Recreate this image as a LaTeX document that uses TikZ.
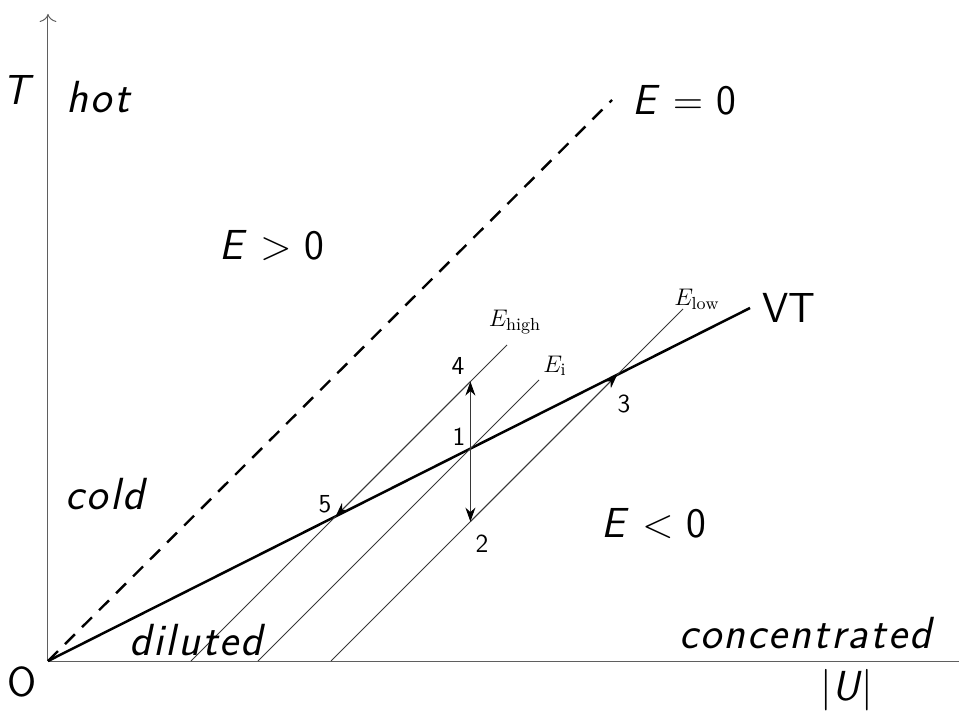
\documentclass[tikz,border=0pt]{standalone}
\usepackage{amsmath}
\usepackage{fontspec}
\usepackage{xcolor}
\usepackage{tikz}
\usetikzlibrary{arrows.meta, positioning, calc}
\setsansfont{Latin Modern Sans}
\definecolor{axisgray}{RGB}{95,95,95}
\definecolor{isogray}{RGB}{55,55,55}

\tikzset{
  biglab/.style={font=\sffamily\fontsize{21}{25}\selectfont, inner sep=0pt},
  wordlab/.style={font=\sffamily\itshape\fontsize{22.5}{26}\selectfont\addfontfeature{LetterSpace=5}, inner sep=0pt},
  numlab/.style={font=\sffamily\fontsize{13}{15}\selectfont, inner sep=0pt},
  elab/.style={font=\fontsize{12.5}{15}\selectfont, inner sep=0pt},
  isoline/.style={isogray, line width=0.5pt},
  flow/.style={isogray, line width=0.5pt, -{Stealth[length=7pt, width=5pt, black]}},
}

\begin{document}
\begin{tikzpicture}[x=0.5pt, y=0.5pt]
            \useasboundingbox (-48,-52) rectangle (911,661);
            % axes
            \coordinate (O) at (0,0);
            \coordinate (ytop) at (0,647);
            \coordinate (xend) at (911,0);
            \draw[axisgray, line width=0.5pt, -{To[length=4pt]}] (O) -- (ytop);
            \draw[axisgray, line width=0.5pt] (O) -- (xend);
            % E = 0 and VT
            \coordinate (zend) at (564,561);
            \coordinate (vtend) at (702,353);
            \draw[line width=1.2pt, dash pattern=on 7pt off 5pt] (O) -- (zend);
            \draw[line width=1.25pt] (O) -- (vtend);
            % lines of constant E
            \coordinate (hbot) at (143,0);  \coordinate (htop) at (459,316);
            \coordinate (ibot) at (210,0);  \coordinate (itop) at (491,281);
            \coordinate (lbot) at (283,0);  \coordinate (ltop) at (635,352);
            \draw[isoline] (hbot) -- (htop);
            \draw[isoline] (ibot) -- (itop);
            \draw[isoline] (lbot) -- (ltop);
            % states
            \coordinate (p1) at (422.4,212.4);
            \coordinate (p2) at (422.4,139.4);
            \coordinate (p3) at (569.2,286.2);
            \coordinate (p4) at (422.4,279.4);
            \coordinate (p5) at (287.6,144.6);
            \draw[flow] (p4) -- (p5);
            \draw[flow] (p2) -- (p3);
            \draw[flow] (p1) -- (p4);
            \draw[flow] (p1) -- (p2);
            % labels
            \node[biglab] (tlab) at (-30,571) {\textit{T}};
            \node[biglab] (olab) at (-26,-21) {O};
            \node[biglab] (ulab) at (799,-29) {$|$\textit{U}$|$};
            \node[wordlab] (hot) at (50,564) {hot};
            \node[wordlab] (cold) at (57,167) {cold};
            \node[wordlab] (dil) at (148,21) {diluted};
            \node[wordlab] (conc) at (757,28) {concentrated};
            \node[biglab] (pos) at (224,415) {\textit{E} $>$ 0};
            \node[biglab] (neg) at (606,137) {\textit{E} $<$ 0};
            \node[biglab, right=10pt of zend] (zero) {\textit{E} $=$ 0};
            \node[biglab, right=6pt of vtend] (vt) {VT};
            \node[elab] (ehigh) at (467,339) {$E_{\mathrm{high}}$};
            \node[elab] (ei) at (507,295) {$E_{\mathrm{i}}$};
            \node[elab] (elow) at (649,362) {$E_{\mathrm{low}}$};
            \node[numlab] (n1) at (411,224) {1};
            \node[numlab] (n2) at (434,117) {2};
            \node[numlab] (n3) at (576,257) {3};
            \node[numlab] (n4) at (410,295) {4};
            \node[numlab] (n5) at (277,157) {5};
        \end{tikzpicture}
\end{document}
